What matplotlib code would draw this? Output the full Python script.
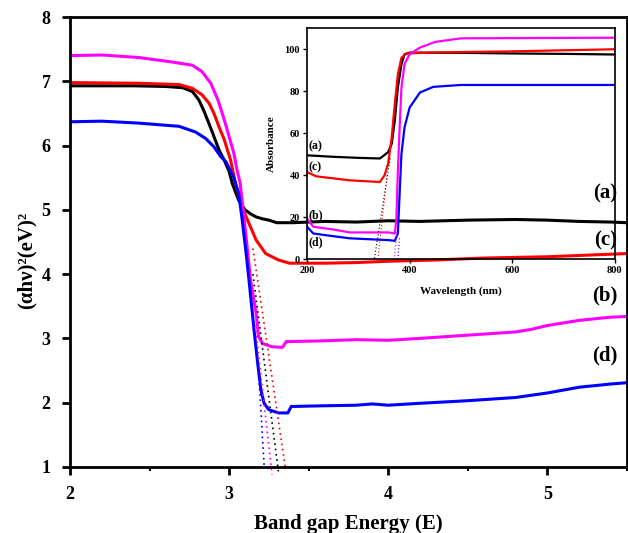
import matplotlib
matplotlib.use("Agg")
import matplotlib.pyplot as plt

plt.rcParams['font.family'] = ['Liberation Serif', 'DejaVu Serif']
plt.rcParams['font.weight'] = 'bold'

# ---- main plot data: (alpha h nu)^2 vs band gap energy ----
e_a = [2.0, 2.4, 2.6, 2.71, 2.77, 2.81, 2.84, 2.874, 2.905, 2.937, 2.97, 3.0, 3.02, 3.06, 3.1,
       3.14, 3.17, 3.21, 3.25, 3.3, 3.4, 3.6, 3.8, 4.0, 4.2, 4.5, 4.8, 5.0, 5.2, 5.4, 5.5]
y_a = [6.93, 6.93, 6.92, 6.90, 6.84, 6.71, 6.55, 6.34, 6.14, 5.93, 5.77, 5.60, 5.41, 5.15, 5.0,
       4.93, 4.89, 4.86, 4.84, 4.80, 4.80, 4.82, 4.81, 4.83, 4.82, 4.84, 4.85, 4.84, 4.82, 4.81, 4.80]

e_c = [2.0, 2.43, 2.685, 2.77, 2.83, 2.874, 2.905, 2.937, 2.97, 3.01, 3.04, 3.08, 3.125, 3.17, 3.23,
       3.31, 3.38, 3.6, 3.8, 4.0, 4.3, 4.6, 5.0, 5.3, 5.5]
y_c = [6.98, 6.97, 6.95, 6.89, 6.79, 6.66, 6.50, 6.29, 6.09, 5.77, 5.41, 5.05, 4.79, 4.53, 4.32,
       4.22, 4.17, 4.17, 4.18, 4.20, 4.22, 4.25, 4.27, 4.30, 4.32]

e_b = [2.0, 2.2, 2.434, 2.643, 2.77, 2.83, 2.885, 2.93, 2.97, 3.0, 3.03, 3.05, 3.07, 3.105, 3.135,
       3.17, 3.185, 3.21, 3.27, 3.335, 3.36, 3.57, 3.8, 4.0, 4.2, 4.5, 4.8, 4.9, 5.0, 5.2, 5.4, 5.5]
y_b = [7.40, 7.41, 7.37, 7.30, 7.25, 7.15, 6.97, 6.71, 6.40, 6.14, 5.88, 5.62, 5.41, 4.63, 3.91,
       3.39, 3.03, 2.92, 2.87, 2.86, 2.95, 2.96, 2.98, 2.97, 3.00, 3.05, 3.10, 3.14, 3.20, 3.28, 3.33, 3.34]

e_d = [2.0, 2.2, 2.43, 2.685, 2.79, 2.853, 2.905, 2.947, 2.98, 3.0, 3.03, 3.06, 3.08, 3.105, 3.125,
       3.157, 3.18, 3.2, 3.22, 3.25, 3.31, 3.37, 3.39, 3.57, 3.8, 3.9, 4.0, 4.2, 4.5, 4.8, 5.0, 5.2, 5.4, 5.5]
y_d = [6.37, 6.38, 6.35, 6.30, 6.21, 6.11, 5.98, 5.83, 5.75, 5.65, 5.50, 5.26, 4.89, 4.37, 3.91,
       3.13, 2.61, 2.20, 1.99, 1.89, 1.84, 1.84, 1.94, 1.95, 1.96, 1.98, 1.96, 1.99, 2.03, 2.08, 2.15, 2.24, 2.29, 2.31]

# tangent extrapolations (start, end)
tan_e = {'k': [3.15, 3.31], 'r': [3.15, 3.356], 'm': [3.165, 3.27], 'b': [3.19, 3.22]}
tan_y = {'k': [4.0, 0.93], 'r': [4.4, 0.95], 'm': [3.2, 0.88], 'b': [2.30, 1.03]}

# ---- inset data: absorbance vs wavelength ----
w_a = [200, 251, 300, 342, 358, 365, 371, 377, 384, 390, 400, 500, 600, 700, 800]
s_a = [49.5, 48.8, 48.3, 48, 51, 55, 66, 81.8, 92.9, 97.6, 98.4, 98.3, 98.0, 97.8, 97.5]

w_c = [200, 218, 283, 342, 351, 358, 365, 371, 377, 384, 394, 450, 600, 700, 800]
s_c = [41.5, 39.5, 37.6, 36.8, 40, 45.5, 58, 74, 88, 96, 98, 98.5, 99, 99.5, 100]

w_b = [200, 212, 251, 283, 358, 371, 374, 377, 381, 384, 390, 400, 420, 450, 500, 800]
s_b = [19.4, 15.5, 14.2, 12.8, 12.8, 12.3, 18.6, 42, 66, 81.8, 93, 97.6, 100.8, 103.5, 105.2, 105.5]

w_d = [200, 212, 251, 283, 361, 371, 377, 381, 384, 390, 400, 420, 446, 500, 800]
s_d = [15.5, 12.3, 11, 10, 9.1, 8.8, 12.3, 34.4, 50.2, 62.8, 72.3, 79.4, 82.1, 83, 83]

ins_tan_w = {'k': [362, 331], 'r': [356, 338], 'm': [375, 370], 'b': [380, 377]}
ins_tan_s = {'k': [48, 0], 'r': [40, 0], 'm': [13, 0], 'b': [10, 0]}

colors = {'k': '#000000', 'r': '#ff0000', 'm': '#ff00ff', 'b': '#0000ff'}

fig = plt.figure(figsize=(6.28, 5.33), dpi=100)
ax = fig.add_axes([0.1115, 0.124, 0.8865, 0.844])

ax.plot(e_a, y_a, color=colors['k'], lw=2.2)
ax.plot(e_c, y_c, color=colors['r'], lw=2.2)
ax.plot(e_b, y_b, color=colors['m'], lw=2.2)
ax.plot(e_d, y_d, color=colors['b'], lw=2.2)
for k in ['b', 'm', 'k', 'r']:
    ax.plot(tan_e[k], tan_y[k], color=colors[k], lw=1.2, ls=(0, (1, 2.2)), clip_on=False)

ax.set_xlim(2, 5.5)
ax.set_ylim(1, 8)
ax.set_xticks([2, 3, 4, 5])
ax.set_xticks([2.5, 3.5, 4.5, 5.5], minor=True)
ax.set_yticks(range(1, 9))
ax.tick_params(which='major', direction='out', length=6, width=2, labelsize=13, pad=8)
ax.tick_params(which='minor', direction='out', length=3, width=1.5)
for sp in ax.spines.values():
    sp.set_linewidth(2)
ax.set_xlabel('Band gap Energy (E)', fontsize=15, fontweight='bold', labelpad=8)
ax.set_ylabel('(αhν)²(eV)²', fontsize=15, fontweight='bold')
ax.yaxis.set_label_coords(-0.06, 0.46)

for lab, y in [('(a)', 5.26), ('(c)', 4.53), ('(b)', 3.67), ('(d)', 2.74)]:
    ax.text(5.44, y, lab, fontsize=15, fontweight='bold', ha='right', va='center')

# ---- inset ----
ins = fig.add_axes([0.489, 0.5135, 0.490, 0.4335])
ins.set_facecolor('none')
ins.plot(w_a, s_a, color=colors['k'], lw=1.6)
ins.plot(w_c, s_c, color=colors['r'], lw=1.6)
ins.plot(w_b, s_b, color=colors['m'], lw=1.6)
ins.plot(w_d, s_d, color=colors['b'], lw=1.6)
for k in ['k', 'r', 'm', 'b']:
    ins.plot(ins_tan_w[k], ins_tan_s[k], color=colors[k], lw=0.8, ls=(0, (1, 2)))
ins.set_xlim(200, 800)
ins.set_ylim(0, 110)
ins.set_xticks([200, 400, 600, 800])
ins.set_yticks([0, 20, 40, 60, 80, 100])
ins.tick_params(direction='out', length=3, width=1, labelsize=7.5, pad=2)
for sp in ins.spines.values():
    sp.set_linewidth(1.2)
ins.set_xlabel('Wavelength (nm)', fontsize=8, fontweight='bold', labelpad=8)
ins.set_ylabel('Absorbance', fontsize=8, fontweight='bold', labelpad=6)
for lab, w, s in [('(a)', 203, 54), ('(c)', 203, 44), ('(b)', 203, 21), ('(d)', 203, 8)]:
    ins.text(w, s, lab, fontsize=8.5, fontweight='bold', ha='left', va='center')

fig.savefig('out.png', dpi=100)
